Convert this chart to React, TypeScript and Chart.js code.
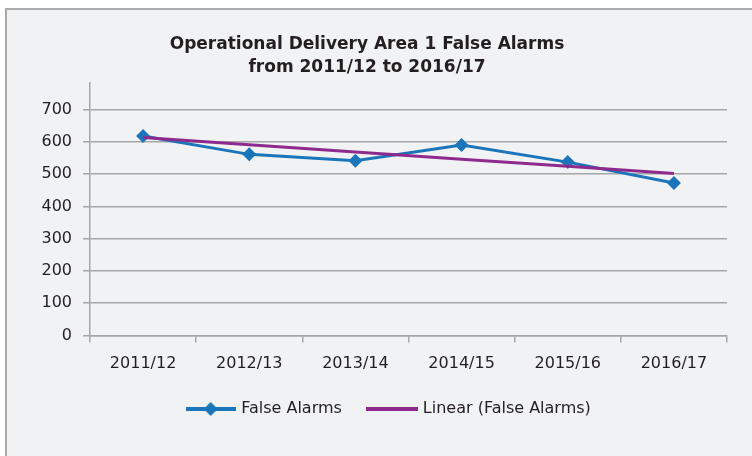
import React, { useEffect, useRef } from 'react';
import { Chart, registerables } from 'chart.js';

Chart.register(...registerables);

const categories = ['2011/12', '2012/13', '2013/14', '2014/15', '2015/16', '2016/17'];
const falseAlarms = [618, 561, 541, 590, 537, 472];
const linearTrend = [613, 591, 568, 546, 524, 502];
const yTicks = [0, 100, 200, 300, 400, 500, 600, 700];
const titleLines = ['Operational Delivery Area 1 False Alarms', 'from 2011/12 to 2016/17'];
const seriesNames = ['False Alarms', 'Linear (False Alarms)'];

const BLUE = '#1b75bb';
const PURPLE = '#8e2a8e';
const GRID = '#a6a6a6';
const TEXT = '#231f20';
const FONT = "'DejaVu Sans', sans-serif";

function makeBlueSymbol(): HTMLCanvasElement {
  const c = document.createElement('canvas');
  c.width = 50;
  c.height = 16;
  const ctx = c.getContext('2d')!;
  ctx.strokeStyle = BLUE;
  ctx.lineWidth = 4;
  ctx.beginPath();
  ctx.moveTo(0, 8);
  ctx.lineTo(50, 8);
  ctx.stroke();
  ctx.fillStyle = BLUE;
  ctx.beginPath();
  ctx.moveTo(25, 1);
  ctx.lineTo(32, 8);
  ctx.lineTo(25, 15);
  ctx.lineTo(18, 8);
  ctx.closePath();
  ctx.fill();
  return c;
}

function makePurpleSymbol(): HTMLCanvasElement {
  const c = document.createElement('canvas');
  c.width = 52;
  c.height = 4;
  const ctx = c.getContext('2d')!;
  ctx.fillStyle = PURPLE;
  ctx.fillRect(0, 0, 52, 4);
  return c;
}

export default function App() {
  const ref = useRef<HTMLCanvasElement>(null);

  useEffect(() => {
    document.body.style.margin = '0';
    if (!ref.current) return;
    const blueSym = makeBlueSymbol();
    const purpleSym = makePurpleSymbol();

    const legendShift = {
      id: 'legendShift',
      afterLayout(chart: any) {
        const lg = chart.legend;
        if (lg) {
          lg.left = 52;
          lg.right = 727;
        }
      },
    };

    const chart = new Chart(ref.current, {
      type: 'line',
      data: {
        labels: categories,
        datasets: [
          {
            label: seriesNames[0],
            data: falseAlarms,
            borderColor: BLUE,
            backgroundColor: BLUE,
            borderWidth: 3,
            pointStyle: 'rectRot',
            pointRadius: 7,
            pointBorderWidth: 0,
            pointBackgroundColor: BLUE,
            tension: 0,
            order: 1,
          },
          {
            label: seriesNames[1],
            data: linearTrend,
            borderColor: PURPLE,
            backgroundColor: PURPLE,
            borderWidth: 3,
            pointRadius: 0,
            tension: 0,
            order: 0,
          },
        ],
      },
      plugins: [legendShift],
      options: {
        animation: false,
        responsive: false,
        maintainAspectRatio: false,
        layout: { padding: { left: 7, right: 25, top: 0, bottom: 29 } },
        plugins: {
          title: {
            display: true,
            text: titleLines,
            color: TEXT,
            font: { family: FONT, size: 17, weight: 'bold', lineHeight: '23px' } as any,
            padding: { top: 33.5, bottom: 3.5 },
          },
          legend: {
            position: 'bottom',
            labels: {
              usePointStyle: true,
              pointStyleWidth: 45,
              padding: 28,
              color: TEXT,
              font: { family: FONT, size: 16 },
              generateLabels: (c: any) => {
                const items = (Chart.defaults.plugins.legend.labels as any).generateLabels(c);
                items.sort((a: any, b: any) => a.datasetIndex - b.datasetIndex);
                items.forEach((it: any) => {
                  it.pointStyle = it.datasetIndex === 0 ? blueSym : purpleSym;
                  it.lineWidth = 0;
                });
                return items;
              },
            },
          },
          tooltip: { enabled: false },
        },
        scales: {
          x: {
            type: 'category',
            offset: true,
            grid: {
              offset: true,
              drawOnChartArea: false,
              drawTicks: true,
              tickLength: 7,
              color: GRID,
              lineWidth: 1.5,
            },
            border: { color: GRID, width: 1.5 },
            ticks: {
              color: TEXT,
              font: { family: FONT, size: 16 },
              padding: 12,
              maxRotation: 0,
              autoSkip: false,
            },
            afterFit: (s: any) => {
              s.height = 37.5;
            },
          },
          y: {
            min: 0,
            max: 782,
            grid: { color: GRID, lineWidth: 1.5, tickLength: 7 },
            border: { color: GRID, width: 1.5 },
            ticks: {
              color: TEXT,
              font: { family: FONT, size: 16 },
              padding: 11,
            },
            afterBuildTicks: (s: any) => {
              s.ticks = yTicks.map((v) => ({ value: v }));
            },
            afterFit: (s: any) => {
              s.width = 83;
            },
          },
        },
      },
    } as any);

    return () => chart.destroy();
  }, []);

  return (
    <div style={{ position: 'fixed', left: 0, top: 0, width: 752, height: 456, background: '#ffffff', overflow: 'hidden' }}>
      <div
        style={{
          position: 'absolute',
          left: 5,
          top: 8,
          width: 780,
          height: 480,
          background: '#f1f2f4',
          border: '2px solid #ababab',
          boxSizing: 'border-box',
        }}
      />
      <canvas ref={ref} width={752} height={456} style={{ position: 'absolute', left: 0, top: 0, display: 'block' }} />
    </div>
  );
}
